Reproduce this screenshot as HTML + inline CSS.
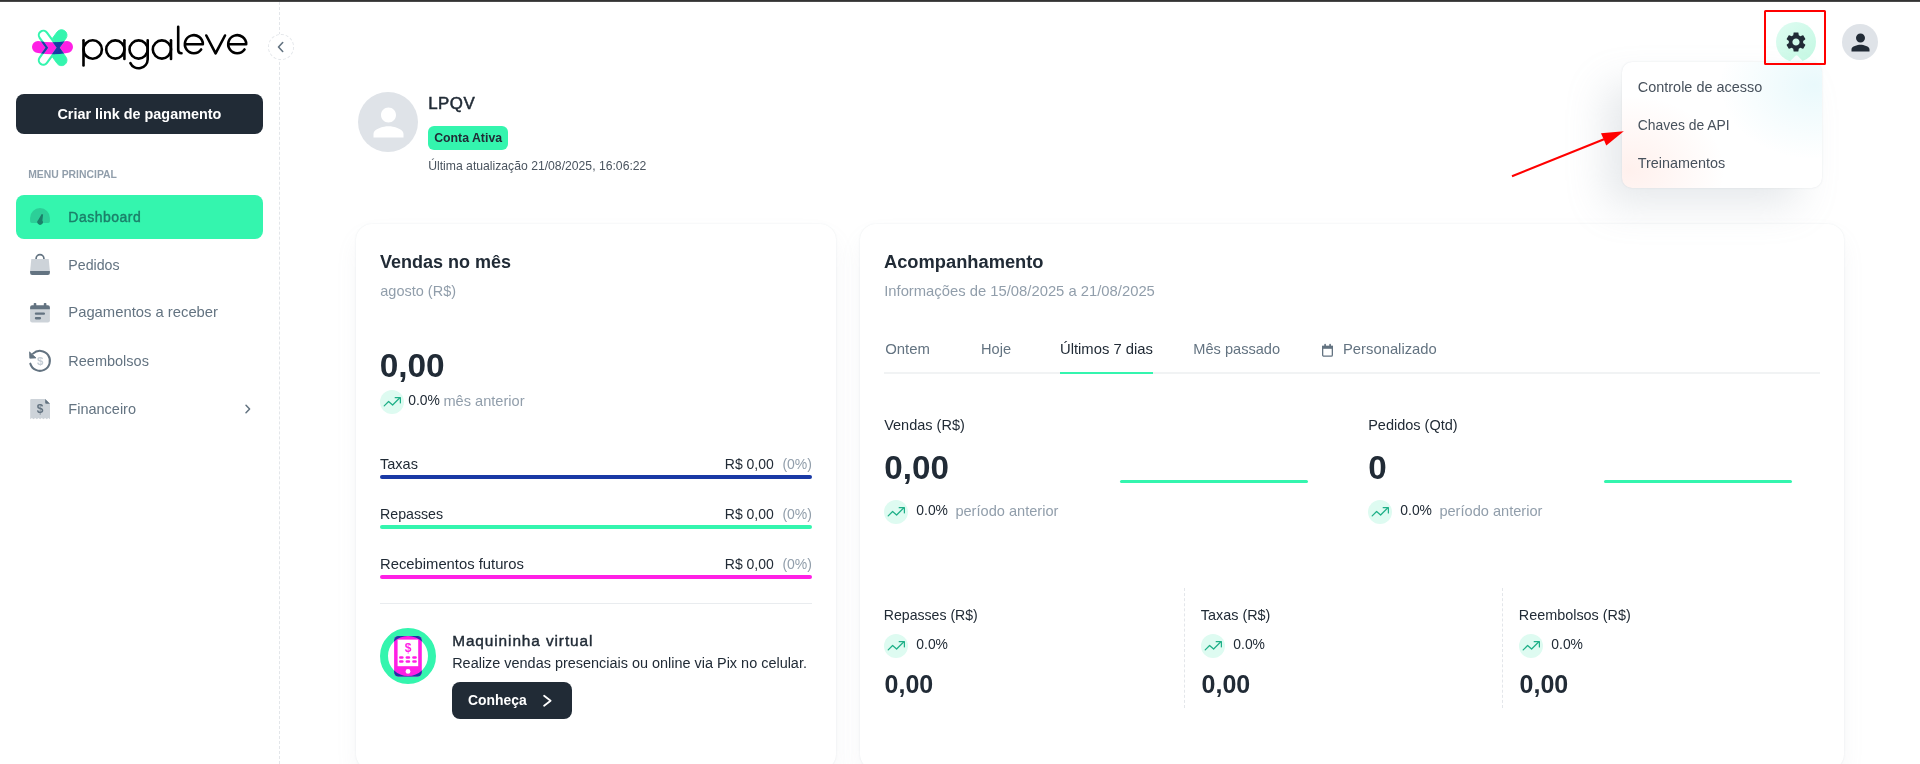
<!DOCTYPE html>
<html lang="pt-BR">
<head>
<meta charset="utf-8">
<title>Dashboard</title>
<style>
*{box-sizing:border-box;margin:0;padding:0}
html,body{width:1920px;height:764px;overflow:hidden;background:#fff}
body{will-change:transform;font-family:"Liberation Sans",sans-serif;color:#212B36;position:relative}
.abs{position:absolute}
.t{position:absolute;white-space:nowrap;line-height:1}
.card{position:absolute;background:#fff;border-radius:16px;box-shadow:0 0 2px rgba(145,158,171,.2),0 12px 24px -4px rgba(145,158,171,.12)}
.bar{position:absolute;left:380px;width:432px;height:4px;border-radius:2px}
.trend{position:absolute;width:24px;height:24px;border-radius:50%;background:#DEFBF1}
.nav{position:absolute;left:16px;width:247px;height:44px;border-radius:8px}
</style>
</head>
<body>
<div class="abs" style="left:0;top:0;width:1920px;height:2px;background:linear-gradient(#333 0,#333 1px,#4a4a4a 1px,#4a4a4a 2px)"></div>
<div class="abs" style="left:0;top:2px;width:280px;height:762px;border-right:1px dashed #E3E6EA"></div>
<div class="abs" style="left:268px;top:34px;width:26px;height:26px;border-radius:50%;border:1px dashed #E3E6EA;background:#fff"></div>
<svg class="abs" style="left:26px;top:20px" width="230" height="56" viewBox="26 20 230 56">
  <defs><clipPath id="pillclip"><path d="M38 41 Q52.5 43.6 67 41 A6 6 0 0 1 67 53 Q52.5 55.6 38 53 A6 6 0 0 1 38 41Z"/></clipPath></defs>
  <path d="M38 41 Q52.5 43.6 67 41 A6 6 0 0 1 67 53 Q52.5 55.6 38 53 A6 6 0 0 1 38 41Z" fill="#FF1FE5"/>
  <g fill="#34F5AE" stroke="#34F5AE">
    <path d="M52.4 38.36 L57.05 31.96 A5.5 5.5 0 0 1 65.95 38.44 L59.2 47.7Z" stroke-width=".9"/>
    <path d="M52.4 57.04 L57.05 63.44 A5.5 5.5 0 0 0 65.95 56.96 L59.2 47.7Z" stroke-width=".9"/>
    <path d="M57.97 47.7 L46.94 32.55 A4.5 4.5 0 0 0 39.66 37.85 L46.83 47.7 L39.66 57.55 A4.5 4.5 0 0 0 46.94 62.85Z" fill="none" stroke-width="2.1"/>
  </g>
  <g clip-path="url(#pillclip)" fill="#1939A5" stroke="#1939A5">
    <path d="M52.4 38.36 L57.05 31.96 A5.5 5.5 0 0 1 65.95 38.44 L59.2 47.7Z" stroke-width=".9"/>
    <path d="M52.4 57.04 L57.05 63.44 A5.5 5.5 0 0 0 65.95 56.96 L59.2 47.7Z" stroke-width=".9"/>
    <path d="M57.97 47.7 L46.94 32.55 A4.5 4.5 0 0 0 39.66 37.85 L46.83 47.7 L39.66 57.55 A4.5 4.5 0 0 0 46.94 62.85Z" fill="none" stroke-width="2.1"/>
  </g>
  <g fill="none" stroke="#000" stroke-width="2.6" stroke-linecap="round" stroke-linejoin="round">
    <path d="M83.5 40.2V65.5"/><circle cx="92.7" cy="49.5" r="9.2"/>
    <circle cx="115.3" cy="49.5" r="9.1"/><path d="M124.4 40.2V59"/>
    <circle cx="138.6" cy="49.5" r="9.1"/><path d="M147.7 40.2V59.3A9.1 9.1 0 0 1 130.4 63.1"/>
    <circle cx="161.9" cy="49.5" r="9.1"/><path d="M171 40.2V59"/>
    <path d="M178.2 26.8V50Q178.2 53.3 181.5 53.3"/>
    <path d="M184.85 44.2H202.85A9 9 0 1 0 201.15 49.46"/>
    <path d="M206.3 35.5L215.6 53.3L225 35.5"/>
    <path d="M228.2 44.2H246.2A9 9 0 1 0 244.5 49.46"/>
  </g>
</svg>
<svg class="abs" style="left:268px;top:34px" width="26" height="26" viewBox="268 34 26 26"><path d="M282.7 42.5L278.5 47L282.7 51.5" fill="none" stroke="#637381" stroke-width="1.6" stroke-linecap="round" stroke-linejoin="round"/></svg>
<div class="abs" style="left:16px;top:94px;width:247px;height:40px;border-radius:8px;background:#212B36"></div>
<div class="t" style="left:57.4px;top:106.61px;font-size:14.4px;font-weight:700;color:#fff">Criar link de pagamento</div>
<div class="t" style="left:28.2px;top:169.50px;font-size:10.4px;font-weight:700;color:#919EAB">MENU PRINCIPAL</div>
<div class="nav" style="top:195px;background:#34F5AE"></div>
<div class="t" style="left:68.3px;top:209.95px;font-size:14px;color:#1B806A;letter-spacing:.5px;-webkit-text-stroke:.4px #1B806A">Dashboard</div>
<div class="t" style="left:68.3px;top:257.98px;font-size:14.2px;color:#637381">Pedidos</div>
<div class="t" style="left:68.3px;top:305.47px;font-size:14.8px;color:#637381">Pagamentos a receber</div>
<div class="t" style="left:68.3px;top:353.73px;font-size:14.5px;color:#637381">Reembolsos</div>
<div class="t" style="left:68.3px;top:401.73px;font-size:14.5px;color:#637381">Financeiro</div>
<svg class="abs" style="left:26px;top:204px" width="28" height="24" viewBox="26 204 28 24">
  <path d="M30.1 221.2V218a9.9 9.9 0 0 1 19.8 0v3.2a1.7 1.7 0 0 1-1.7 1.7H31.8a1.7 1.7 0 0 1-1.7-1.7Z" fill="#1B806A" fill-opacity=".32"/>
  <path d="M41.7 213.9L43.1 214.4L42.4 220.4A2.8 2.8 0 1 1 38.2 219.9Z" fill="#1B806A"/>
</svg>
<svg class="abs" style="left:26px;top:250px" width="28" height="28" viewBox="26 250 28 28">
  <path d="M36.1 259.4v-.9a3.9 3.9 0 0 1 7.8 0v.9" fill="none" stroke="#637381" stroke-width="1.7"/>
  <path d="M31.3 259.1H48.7L49.9 271H30.1Z" fill="#CDD3D9"/>
  <path d="M30.1 270.9H49.9V273a2 2 0 0 1-2 2H32.1a2 2 0 0 1-2-2Z" fill="#637381"/>
</svg>
<svg class="abs" style="left:26px;top:300px" width="28" height="26" viewBox="26 300 28 26">
  <path d="M30.1 309H49.9V320.6a2 2 0 0 1-2 2H32.1a2 2 0 0 1-2-2Z" fill="#CDD3D9"/>
  <path d="M30.1 309.2V307.3a2 2 0 0 1 2-2H47.9a2 2 0 0 1 2 2v1.9Z" fill="#637381"/>
  <rect x="33.7" y="303" width="2.6" height="4" rx=".8" fill="#637381"/>
  <rect x="43.8" y="303" width="2.6" height="4" rx=".8" fill="#637381"/>
  <rect x="34.8" y="312.5" width="10.2" height="2.3" rx="1.1" fill="#637381"/>
  <rect x="34.8" y="317.1" width="6.3" height="2.3" rx="1.1" fill="#637381"/>
</svg>
<svg class="abs" style="left:26px;top:346px" width="28" height="28" viewBox="26 346 28 28">
  <path d="M30.3 363.6A10 10 0 1 0 33 353.6" fill="none" stroke="#637381" stroke-width="2" stroke-linecap="round"/>
  <path d="M29.5 351.9L29.8 358.2L36 357.9Z" fill="#637381" stroke="#637381" stroke-width=".8" stroke-linejoin="round"/>
  <text x="40.1" y="364.8" font-family="Liberation Sans, sans-serif" font-size="11.5" font-weight="700" text-anchor="middle" fill="#C4CDD5">$</text>
</svg>
<svg class="abs" style="left:26px;top:394px" width="28" height="28" viewBox="26 394 28 28">
  <path d="M31.4 398.9H45.2L50 403.8V419.2L48.4 418L46.7 419.2L45.1 418L43.4 419.2L41.8 418L40.1 419.2L38.5 418L36.8 419.2L35.2 418L33.5 419.2L31.9 418L30.2 419.2V400.1A1.2 1.2 0 0 1 31.4 398.9Z" fill="#CDD3D9"/>
  <path d="M45.2 398.9L50 403.8H46.2A1 1 0 0 1 45.2 402.8Z" fill="#637381"/>
  <text x="40" y="412.9" font-family="Liberation Sans, sans-serif" font-size="12" font-weight="700" text-anchor="middle" fill="#637381">$</text>
</svg>
<svg class="abs" style="left:240px;top:401px" width="16" height="16" viewBox="0 0 16 16"><path d="M6 4.2L9.6 8L6 11.8" fill="none" stroke="#637381" stroke-width="1.5" stroke-linecap="round" stroke-linejoin="round"/></svg>
<div class="abs" style="left:358px;top:92px;width:60px;height:60px;border-radius:50%;background:#DFE3E8"></div>
<svg class="abs" style="left:365.5px;top:99.5px" width="45" height="45" viewBox="0 0 24 24"><path fill="#fff" d="M12 12c2.21 0 4-1.79 4-4s-1.79-4-4-4-4 1.79-4 4 1.79 4 4 4zm0 2c-2.67 0-8 1.34-8 4v2h16v-2c0-2.66-5.33-4-8-4z"/></svg>
<div class="t" style="left:428.2px;top:95.89px;font-size:16.9px;color:#212B36;letter-spacing:.5px;-webkit-text-stroke:.5px #212B36">LPQV</div>
<div class="abs" style="left:428px;top:126px;width:80px;height:24px;border-radius:6px;background:#34F5AE"></div>
<div class="t" style="left:434.2px;top:131.69px;font-size:12.3px;font-weight:700;color:#212B36">Conta Ativa</div>
<div class="t" style="left:428.2px;top:160.47px;font-size:12.2px;color:#4A545F">Última atualização 21/08/2025, 16:06:22</div>
<div class="card" style="left:356px;top:224px;width:480px;height:546px"></div>
<div class="t" style="left:380px;top:252.66px;font-size:18px;font-weight:700;color:#212B36">Vendas no mês</div>
<div class="t" style="left:380.3px;top:283.63px;font-size:14.5px;color:#919EAB">agosto (R$)</div>
<div class="t" style="left:379.7px;top:349.03px;font-size:33.4px;font-weight:700;color:#212B36">0,00</div>
<div class="trend" style="left:380px;top:390px"><svg width="18" height="18" viewBox="0 0 18 18" style="position:absolute;left:3px;top:3px"><path d="M1.2 12.9L5.6 8.5L9.6 12L16.6 5" fill="none" stroke="#1FB088" stroke-width="1.25" stroke-linecap="round" stroke-linejoin="round"/><path d="M12.2 4.7H17.4V9.9" fill="none" stroke="#1FB088" stroke-width="1.25" stroke-linecap="round" stroke-linejoin="round"/></svg></div>
<div class="t" style="left:408.2px;top:394.33px;font-size:13.9px;color:#212B36">0.0%</div>
<div class="t" style="left:443.4px;top:393.74px;font-size:14.6px;color:#919EAB">mês anterior</div>
<div class="t" style="left:380px;top:456.83px;font-size:14.5px;color:#212B36">Taxas</div>
<div class="t" style="left:724.8px;top:457.25px;font-size:14px;color:#212B36">R$ 0,00</div>
<div class="t" style="left:782.4px;top:457.25px;font-size:14px;color:#919EAB">(0%)</div>
<div class="bar" style="top:475px;background:#1939A5"></div>
<div class="t" style="left:380px;top:507.08px;font-size:14.2px;color:#212B36">Repasses</div>
<div class="t" style="left:724.8px;top:507.25px;font-size:14px;color:#212B36">R$ 0,00</div>
<div class="t" style="left:782.4px;top:507.25px;font-size:14px;color:#919EAB">(0%)</div>
<div class="bar" style="top:525px;background:#34F5AE"></div>
<div class="t" style="left:380px;top:556.57px;font-size:14.8px;color:#212B36">Recebimentos futuros</div>
<div class="t" style="left:724.8px;top:557.25px;font-size:14px;color:#212B36">R$ 0,00</div>
<div class="t" style="left:782.4px;top:557.25px;font-size:14px;color:#919EAB">(0%)</div>
<div class="bar" style="top:575px;background:#FF1FE5"></div>
<div class="abs" style="left:380px;top:603px;width:432px;height:1px;background:#E9ECEF"></div>
<svg class="abs" style="left:380px;top:628px" width="56" height="56" viewBox="380 628 56 56">
  <defs><clipPath id="ringclip"><path d="M408 628a28 28 0 1 0 0 56a28 28 0 1 0 0-56ZM408 636a20 20 0 1 1 0 40a20 20 0 1 1 0-40Z" clip-rule="evenodd"/></clipPath></defs>
  <circle cx="408" cy="656" r="24" fill="none" stroke="#34F5AE" stroke-width="8"/>
  <rect x="394.1" y="636" width="27.7" height="40.5" rx="4.5" fill="#FF1FE5"/>
  <rect x="394.1" y="636" width="27.7" height="40.5" rx="4.5" fill="#1939A5" clip-path="url(#ringclip)"/>
  <rect x="397.6" y="639.6" width="20.6" height="26.6" fill="#fff"/>
  <text x="408" y="652.2" font-family="Liberation Sans, sans-serif" font-size="12" font-weight="700" text-anchor="middle" fill="#FF1FE5">$</text>
  <g fill="#FF1FE5">
    <rect x="399" y="656.2" width="4.6" height="2.6" rx="1.3"/><rect x="405.6" y="656.2" width="4.6" height="2.6" rx="1.3"/><rect x="412.2" y="656.2" width="4.6" height="2.6" rx="1.3"/>
    <rect x="399" y="660.2" width="4.6" height="2.6" rx="1.3"/><rect x="405.6" y="660.2" width="4.6" height="2.6" rx="1.3"/><rect x="412.2" y="660.2" width="4.6" height="2.6" rx="1.3"/>
  </g>
  <circle cx="408" cy="671.4" r="2.4" fill="#fff"/>
</svg>
<div class="t" style="left:452.2px;top:632.76px;font-size:15.4px;color:#212B36;letter-spacing:.9px;-webkit-text-stroke:.4px #212B36">Maquininha virtual</div>
<div class="t" style="left:452.2px;top:655.77px;font-size:14.45px;color:#212B36">Realize vendas presenciais ou online via Pix no celular.</div>
<div class="abs" style="left:452px;top:682px;width:120px;height:36.5px;border-radius:8px;background:#212B36"></div>
<div class="t" style="left:468px;top:693.83px;font-size:13.9px;font-weight:700;color:#fff">Conheça</div>
<svg class="abs" style="left:538px;top:691px" width="18" height="18" viewBox="0 0 18 18"><path d="M6.1 4.8L12.6 9.8L6.1 14.8" fill="none" stroke="#fff" stroke-width="1.8" stroke-linecap="round" stroke-linejoin="round"/></svg>
<div class="card" style="left:860px;top:224px;width:984px;height:546px"></div>
<div class="t" style="left:884px;top:252.51px;font-size:18.3px;font-weight:700;color:#212B36">Acompanhamento</div>
<div class="t" style="left:884.2px;top:283.57px;font-size:14.8px;color:#919EAB">Informações de 15/08/2025 a 21/08/2025</div>
<div class="t" style="left:885.2px;top:341.89px;font-size:14.9px;color:#637381">Ontem</div>
<div class="t" style="left:981px;top:342.14px;font-size:14.6px;color:#637381">Hoje</div>
<div class="t" style="left:1060px;top:341.97px;font-size:14.8px;color:#212B36">Últimos 7 dias</div>
<div class="t" style="left:1193.3px;top:342.14px;font-size:14.6px;color:#637381">Mês passado</div>
<div class="t" style="left:1343px;top:341.97px;font-size:14.8px;color:#637381">Personalizado</div>
<svg class="abs" style="left:1320px;top:342px" width="16" height="16" viewBox="1320 342 16 16"><path d="M1322.65 346.5h9.7v8.4a1.2 1.2 0 0 1-1.2 1.2h-7.3a1.2 1.2 0 0 1-1.2-1.2Z" fill="none" stroke="#637381" stroke-width="1.3"/><path d="M1322 345.9h11v2.9h-11Z" fill="#637381"/><path d="M1325.1 344.7v1.5M1330.1 344.7v1.5" stroke="#637381" stroke-width="1.7" stroke-linecap="round"/></svg>
<div class="abs" style="left:884px;top:372px;width:936px;height:2px;background:#F1F3F4"></div>
<div class="abs" style="left:1060px;top:372px;width:93px;height:2px;background:#34F5AE"></div>
<div class="t" style="left:884.2px;top:417.83px;font-size:14.5px;color:#212B36">Vendas (R$)</div>
<div class="t" style="left:884.3px;top:451.30px;font-size:33.2px;font-weight:700;color:#212B36">0,00</div>
<div class="abs" style="left:1120px;top:480px;width:188px;height:3px;border-radius:2px;background:#34F5AE"></div>
<div class="trend" style="left:884px;top:500px"><svg width="18" height="18" viewBox="0 0 18 18" style="position:absolute;left:3px;top:3px"><path d="M1.2 12.9L5.6 8.5L9.6 12L16.6 5" fill="none" stroke="#1FB088" stroke-width="1.25" stroke-linecap="round" stroke-linejoin="round"/><path d="M12.2 4.7H17.4V9.9" fill="none" stroke="#1FB088" stroke-width="1.25" stroke-linecap="round" stroke-linejoin="round"/></svg></div>
<div class="t" style="left:916.3px;top:504.33px;font-size:13.9px;color:#212B36">0.0%</div>
<div class="t" style="left:955.4px;top:503.74px;font-size:14.6px;color:#919EAB">período anterior</div>
<div class="t" style="left:1368.2px;top:417.83px;font-size:14.5px;color:#212B36">Pedidos (Qtd)</div>
<div class="t" style="left:1368.3px;top:451.30px;font-size:33.2px;font-weight:700;color:#212B36">0</div>
<div class="abs" style="left:1604px;top:480px;width:188px;height:3px;border-radius:2px;background:#34F5AE"></div>
<div class="trend" style="left:1368px;top:500px"><svg width="18" height="18" viewBox="0 0 18 18" style="position:absolute;left:3px;top:3px"><path d="M1.2 12.9L5.6 8.5L9.6 12L16.6 5" fill="none" stroke="#1FB088" stroke-width="1.25" stroke-linecap="round" stroke-linejoin="round"/><path d="M12.2 4.7H17.4V9.9" fill="none" stroke="#1FB088" stroke-width="1.25" stroke-linecap="round" stroke-linejoin="round"/></svg></div>
<div class="t" style="left:1400.3px;top:504.33px;font-size:13.9px;color:#212B36">0.0%</div>
<div class="t" style="left:1439.4px;top:503.74px;font-size:14.6px;color:#919EAB">período anterior</div>
<div class="abs" style="left:1184px;top:588px;width:0;height:120px;border-left:1px dashed #E3E6EA"></div>
<div class="abs" style="left:1502px;top:588px;width:0;height:120px;border-left:1px dashed #E3E6EA"></div>
<div class="t" style="left:883.8px;top:608.06px;font-size:14.1px;color:#212B36">Repasses (R$)</div>
<div class="trend" style="left:884px;top:634px"><svg width="18" height="18" viewBox="0 0 18 18" style="position:absolute;left:3px;top:3px"><path d="M1.2 12.9L5.6 8.5L9.6 12L16.6 5" fill="none" stroke="#1FB088" stroke-width="1.25" stroke-linecap="round" stroke-linejoin="round"/><path d="M12.2 4.7H17.4V9.9" fill="none" stroke="#1FB088" stroke-width="1.25" stroke-linecap="round" stroke-linejoin="round"/></svg></div>
<div class="t" style="left:916.3px;top:638.03px;font-size:13.9px;color:#212B36">0.0%</div>
<div class="t" style="left:884.6px;top:671.74px;font-size:25px;font-weight:700;color:#212B36">0,00</div>
<div class="t" style="left:1200.8px;top:607.81px;font-size:14.4px;color:#212B36">Taxas (R$)</div>
<div class="trend" style="left:1201px;top:634px"><svg width="18" height="18" viewBox="0 0 18 18" style="position:absolute;left:3px;top:3px"><path d="M1.2 12.9L5.6 8.5L9.6 12L16.6 5" fill="none" stroke="#1FB088" stroke-width="1.25" stroke-linecap="round" stroke-linejoin="round"/><path d="M12.2 4.7H17.4V9.9" fill="none" stroke="#1FB088" stroke-width="1.25" stroke-linecap="round" stroke-linejoin="round"/></svg></div>
<div class="t" style="left:1233.3px;top:638.03px;font-size:13.9px;color:#212B36">0.0%</div>
<div class="t" style="left:1201.6px;top:671.74px;font-size:25px;font-weight:700;color:#212B36">0,00</div>
<div class="t" style="left:1518.8px;top:607.81px;font-size:14.4px;color:#212B36">Reembolsos (R$)</div>
<div class="trend" style="left:1519px;top:634px"><svg width="18" height="18" viewBox="0 0 18 18" style="position:absolute;left:3px;top:3px"><path d="M1.2 12.9L5.6 8.5L9.6 12L16.6 5" fill="none" stroke="#1FB088" stroke-width="1.25" stroke-linecap="round" stroke-linejoin="round"/><path d="M12.2 4.7H17.4V9.9" fill="none" stroke="#1FB088" stroke-width="1.25" stroke-linecap="round" stroke-linejoin="round"/></svg></div>
<div class="t" style="left:1551.3px;top:638.03px;font-size:13.9px;color:#212B36">0.0%</div>
<div class="t" style="left:1519.6px;top:671.74px;font-size:25px;font-weight:700;color:#212B36">0,00</div>
<div class="abs" style="left:1776px;top:22px;width:40px;height:40px;border-radius:50%;background:linear-gradient(135deg,#DFFCF2 0%,#C3F8E2 100%)"></div>
<svg class="abs" style="left:1784px;top:30px" width="24" height="24" viewBox="0 0 24 24"><path fill="#212B36" d="M19.14 12.94c.04-.3.06-.61.06-.94 0-.32-.02-.64-.07-.94l2.03-1.58c.18-.14.23-.41.12-.61l-1.92-3.32c-.12-.22-.37-.29-.59-.22l-2.39.96c-.5-.38-1.03-.7-1.62-.94l-.36-2.54c-.04-.24-.24-.41-.48-.41h-3.84c-.24 0-.43.17-.47.41l-.36 2.54c-.59.24-1.13.57-1.62.94l-2.39-.96c-.22-.08-.47 0-.59.22L2.74 8.87c-.12.21-.08.47.12.61l2.03 1.58c-.05.3-.09.63-.09.94s.02.64.07.94l-2.03 1.58c-.18.14-.23.41-.12.61l1.92 3.32c.12.22.37.29.59.22l2.39-.96c.5.38 1.03.7 1.62.94l.36 2.54c.05.24.24.41.48.41h3.84c.24 0 .44-.17.47-.41l.36-2.54c.59-.24 1.13-.56 1.62-.94l2.39.96c.22.08.47 0 .59-.22l1.92-3.32c.12-.22.07-.47-.12-.61l-2.01-1.58zM12 15.6c-1.98 0-3.6-1.62-3.6-3.6s1.62-3.6 3.6-3.6 3.6 1.62 3.6 3.6-1.62 3.6-3.6 3.6z"/></svg>
<div class="abs" style="left:1842px;top:24px;width:36px;height:36px;border-radius:50%;background:#DFE3E8"></div>
<svg class="abs" style="left:1846.5px;top:28.5px" width="27" height="27" viewBox="0 0 24 24"><path fill="#212B36" d="M12 12c2.21 0 4-1.79 4-4s-1.79-4-4-4-4 1.79-4 4 1.79 4 4 4zm0 2c-2.67 0-8 1.34-8 4v2h16v-2c0-2.66-5.33-4-8-4z"/></svg>
<div class="abs" style="left:1790.5px;top:56.5px;width:11px;height:11px;background:#F8FDFD;transform:rotate(45deg);border-radius:1.5px"></div>
<div class="abs" style="left:1622px;top:62px;width:200px;height:126px;border-radius:10px;background:radial-gradient(ellipse 95px 75px at 96% 18%,rgba(0,184,217,.085),rgba(0,184,217,0) 100%),radial-gradient(ellipse 95px 75px at 4% 86%,rgba(255,86,48,.085),rgba(255,86,48,0) 100%),#fff;box-shadow:0 0 2px 0 rgba(145,158,171,.24),-20px 20px 40px -4px rgba(145,158,171,.24)"></div>
<div class="t" style="left:1637.8px;top:79.67px;font-size:14.45px;color:#47515C">Controle de acesso</div>
<div class="t" style="left:1637.8px;top:118.63px;font-size:13.9px;color:#47515C">Chaves de API</div>
<div class="t" style="left:1637.8px;top:155.91px;font-size:14.4px;color:#47515C">Treinamentos</div>
<div class="abs" style="left:1764px;top:10px;width:62px;height:55px;border:2px solid #FF0000;border-radius:1.5px"></div>
<svg class="abs" style="left:1500px;top:110px" width="140" height="80" viewBox="1500 110 140 80"><path d="M1512 176.2L1604 139.3" stroke="#FF0000" stroke-width="2" fill="none"/><path d="M1623.8 131.3L1601 133.2L1606.3 145.6Z" fill="#FF0000"/></svg>
</body>
</html>
